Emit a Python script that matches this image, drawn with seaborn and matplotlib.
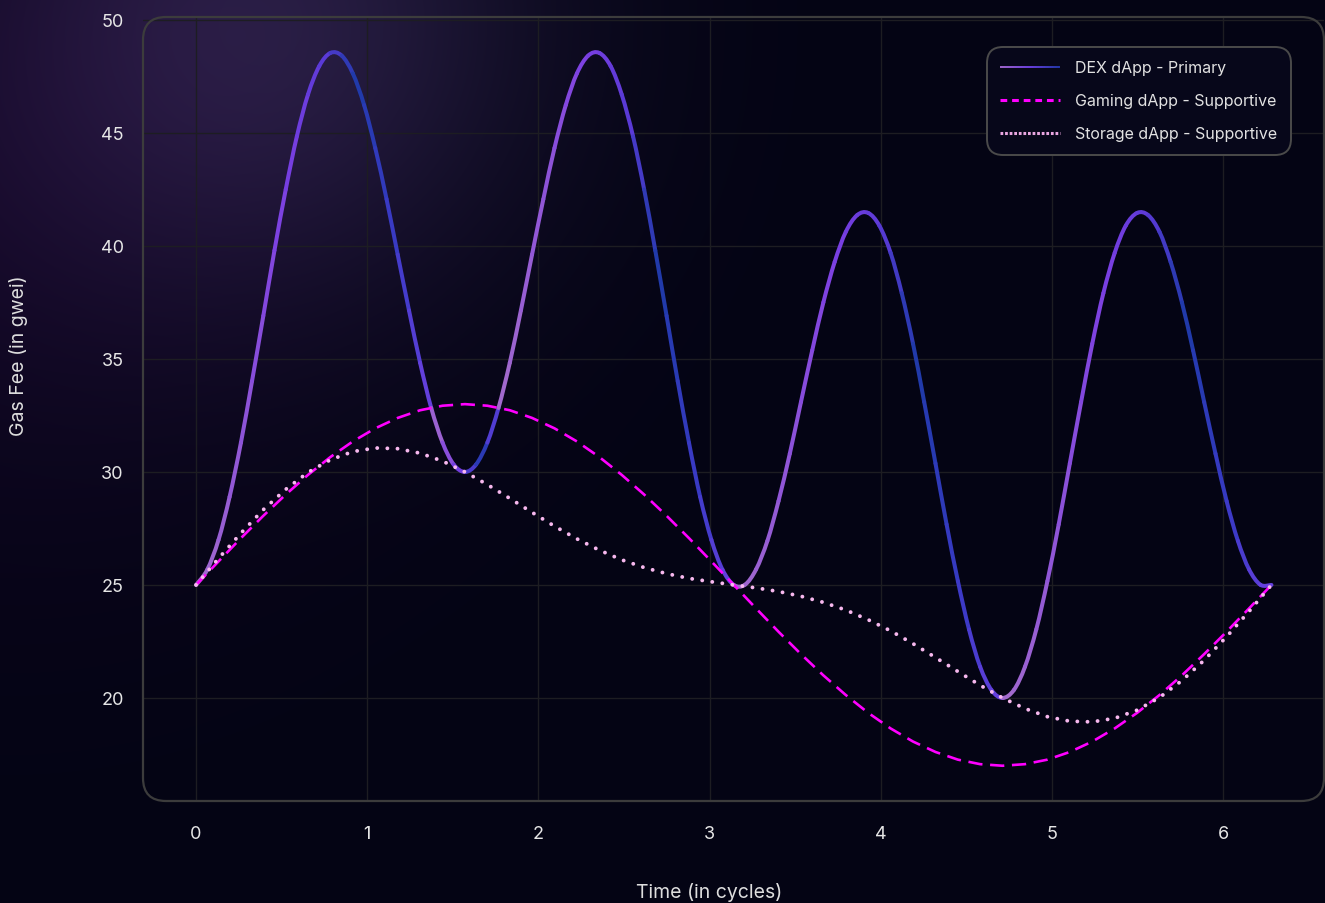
import numpy as np
import matplotlib
matplotlib.use("Agg")
import matplotlib.pyplot as plt
import seaborn as sns
from matplotlib.collections import LineCollection, PathCollection
from matplotlib.colors import LinearSegmentedColormap
from matplotlib.lines import Line2D
from matplotlib.patches import FancyBboxPatch
from matplotlib.path import Path
from matplotlib.legend_handler import HandlerLineCollection

# --- data (time in cycles, gas fee in gwei) ---
dex_x = [0.000, 0.065, 0.131, 0.196, 0.262, 0.327, 0.393, 0.458, 0.524, 0.589, 0.654, 0.720,
         0.785, 0.851, 0.916, 0.982, 1.047, 1.113, 1.178, 1.244, 1.309, 1.374, 1.440, 1.505,
         1.571, 1.636, 1.702, 1.767, 1.833, 1.898, 1.963, 2.029, 2.094, 2.160, 2.225, 2.291,
         2.356, 2.422, 2.487, 2.553, 2.618, 2.683, 2.749, 2.814, 2.880, 2.945, 3.011, 3.076,
         3.142, 3.207, 3.272, 3.338, 3.403, 3.469, 3.534, 3.600, 3.665, 3.731, 3.796, 3.862,
         3.927, 3.992, 4.058, 4.123, 4.189, 4.254, 4.320, 4.385, 4.451, 4.516, 4.581, 4.647,
         4.712, 4.778, 4.843, 4.909, 4.974, 5.040, 5.105, 5.171, 5.236, 5.301, 5.367, 5.432,
         5.498, 5.563, 5.629, 5.694, 5.760, 5.825, 5.890, 5.956, 6.021, 6.087, 6.152, 6.218,
         6.283]
dex_fee = [25.00, 25.67, 26.99, 28.90, 31.29, 34.02, 36.91, 39.80, 42.50, 44.85, 46.70, 47.96,
           48.54, 48.42, 47.63, 46.23, 44.33, 42.07, 39.62, 37.15, 34.83, 32.83, 31.30, 30.33,
           30.00, 30.33, 31.30, 32.83, 34.83, 37.15, 39.62, 42.07, 44.33, 46.23, 47.63, 48.42,
           48.54, 47.96, 46.70, 44.85, 42.50, 39.80, 36.91, 34.02, 31.29, 28.90, 26.99, 25.67,
           25.00, 25.01, 25.69, 26.95, 28.71, 30.81, 33.09, 35.38, 37.50, 39.29, 40.62, 41.36,
           41.46, 40.90, 39.69, 37.91, 35.67, 33.10, 30.38, 27.68, 25.17, 23.03, 21.38, 20.35,
           20.00, 20.35, 21.38, 23.03, 25.17, 27.68, 30.38, 33.10, 35.67, 37.91, 39.69, 40.90,
           41.46, 41.36, 40.62, 39.29, 37.50, 35.38, 33.09, 30.81, 28.71, 26.95, 25.69, 25.01,
           25.00]

supp_x = [0.000, 0.131, 0.262, 0.393, 0.524, 0.654, 0.785, 0.916, 1.047, 1.178, 1.309, 1.440,
          1.571, 1.702, 1.833, 1.963, 2.094, 2.225, 2.356, 2.487, 2.618, 2.749, 2.880, 3.011,
          3.142, 3.272, 3.403, 3.534, 3.665, 3.796, 3.927, 4.058, 4.189, 4.320, 4.451, 4.581,
          4.712, 4.843, 4.974, 5.105, 5.236, 5.367, 5.498, 5.629, 5.760, 5.890, 6.021, 6.152,
          6.283]
gaming_fee = [25.00, 26.04, 27.07, 28.06, 29.00, 29.87, 30.66, 31.35, 31.93, 32.39, 32.73, 32.93,
              33.00, 32.93, 32.73, 32.39, 31.93, 31.35, 30.66, 29.87, 29.00, 28.06, 27.07, 26.04,
              25.00, 23.96, 22.93, 21.94, 21.00, 20.13, 19.34, 18.65, 18.07, 17.61, 17.27, 17.07,
              17.00, 17.07, 17.27, 17.61, 18.07, 18.65, 19.34, 20.13, 21.00, 21.94, 22.93, 23.96,
              25.00]
storage_fee = [25.00, 26.17, 27.29, 28.33, 29.23, 29.98, 30.54, 30.90, 31.06, 31.03, 30.83, 30.48,
               30.00, 29.44, 28.83, 28.21, 27.60, 27.04, 26.54, 26.11, 25.77, 25.50, 25.29, 25.14,
               25.00, 24.87, 24.71, 24.50, 24.23, 23.89, 23.46, 22.97, 22.40, 21.79, 21.17, 20.56,
               20.00, 19.53, 19.17, 18.97, 18.94, 19.10, 19.46, 20.02, 20.77, 21.67, 22.71, 23.83,
               25.00]

labels = ["DEX dApp - Primary", "Gaming dApp - Supportive", "Storage dApp - Supportive"]
x_ticks = [0, 1, 2, 3, 4, 5, 6]
y_ticks = [20, 25, 30, 35, 40, 45, 50]

# where the primary line starts a new colour run (where it meets the other lines)
dex_breaks = [0.0, 1.372, 1.77, 3.142, 4.712, 6.283]

sns.set_theme(style="dark")
plt.rcParams['font.family'] = ['Inter', 'DejaVu Sans']

W, H = 1325, 904
fig = plt.figure(figsize=(W / 100, H / 100), dpi=100)

# background: dark navy with a soft glow top-left
yy, xx = np.mgrid[0:H, 0:W]
base = np.array([4, 4, 20]) / 255
g1 = np.exp(-((xx - 270) ** 2 + (yy - 20) ** 2) / (2 * 190 ** 2))
g2 = np.exp(-((xx - 0) ** 2 + (yy - 150) ** 2) / (2 * 260 ** 2))
img = base + g1[..., None] * np.array([30, 24, 40]) / 255 + g2[..., None] * np.array([15, 3, 18]) / 255
bg = fig.add_axes([0, 0, 1, 1], zorder=-10)
bg.imshow(np.clip(img, 0, 1), aspect="auto")
bg.axis("off")

ax = fig.add_axes([143 / W, 1 - 802 / H, 1181 / W, 784 / H])
ax.set_facecolor("none")
for s in ax.spines.values():
    s.set_visible(False)

dex_cmap = LinearSegmentedColormap.from_list(
    "dex", [(0.0, "#a46ccc"), (0.38, "#7b3fe2"), (0.55, "#5a3ad6"),
            (0.68, "#1f3aa8"), (0.85, "#3b3ac6"), (1.0, "#6b41e0")])

# primary line: smooth curve pieces through the points, coloured along each run
P = np.column_stack([dex_x, dex_fee])
n = len(P)
idx = [int(np.argmin(np.abs(P[:, 0] - b))) for b in dex_breaks]
paths, cols = [], []
for i0, i1 in zip(idx[:-1], idx[1:]):
    a, b = P[i0, 0], P[i1, 0]
    for i in range(i0, i1):
        p0, p1, p2, p3 = P[max(i - 1, 0)], P[i], P[i + 1], P[min(i + 2, n - 1)]
        c1 = p1 + (p2 - p0) / 6
        c2 = p2 - (p3 - p1) / 6
        paths.append(Path([p1, c1, c2, p2],
                          [Path.MOVETO, Path.CURVE4, Path.CURVE4, Path.CURVE4]))
        cols.append(dex_cmap(((p1[0] + p2[0]) / 2 - a) / (b - a)))
pc = PathCollection(paths, facecolors="none", edgecolors=cols, linewidths=2.9,
                    capstyle="round", transform=ax.transData, zorder=2)
ax.add_collection(pc)

sns.lineplot(x=supp_x, y=gaming_fee, ax=ax, color="#ff00ff", lw=1.9,
             linestyle=(0, (5.4, 2.9)), zorder=3)
sns.lineplot(x=supp_x, y=storage_fee, ax=ax, color="#f7b8ee", lw=2.8,
             linestyle=(0, (0.01, 2.6)), dash_capstyle="round", zorder=4)

ax.set_xlim(-0.31, 6.59)
ax.set_ylim(15.44, 50.13)
ax.set_xticks(x_ticks)
ax.set_yticks(y_ticks)
ax.grid(True, color="#1d1d22", lw=1)
ax.tick_params(axis="both", length=0, labelsize=13, colors="#e6e6e6")
ax.tick_params(axis="x", pad=17)
ax.tick_params(axis="y", pad=14)

ax.set_xlabel("Time (in cycles)", fontsize=14, color="#dedede")
ax.set_ylabel("Gas Fee (in gwei)", fontsize=14, color="#dedede")
ax.xaxis.set_label_coords(0.479, -0.103)
ax.yaxis.set_label_coords(-0.097, 0.569)

# rounded frame around the plot area
p = ax.get_position()
frame = FancyBboxPatch((p.x0, p.y0), p.width, p.height,
                       boxstyle=f"round,pad=0,rounding_size={23 / W}",
                       mutation_aspect=W / H, transform=fig.transFigure,
                       fill=False, ec="#3c3c3c", lw=1.6, zorder=5)
fig.patches.append(frame)


class GradientHandler(HandlerLineCollection):
    def create_artists(self, legend, orig_handle, xdescent, ydescent, width, height, fontsize, trans):
        xs = np.linspace(0, width, 40) - xdescent
        ys = np.full_like(xs, height / 2 - ydescent)
        pts = np.column_stack([xs, ys]).reshape(-1, 1, 2)
        segs = np.concatenate([pts[:-1], pts[1:]], axis=1)
        lc = LineCollection(segs, cmap=legend_cmap, transform=trans, linewidths=1.4)
        lc.set_array(np.linspace(0, 1, len(segs)))
        return [lc]


legend_cmap = LinearSegmentedColormap.from_list("leg", ["#a066cc", "#6a3fe0", "#2338a8"])
handles = [
    LineCollection([], cmap=legend_cmap),
    Line2D([], [], color="#ff00ff", lw=2.2, linestyle=(0, (2.2, 1.6))),
    Line2D([], [], color="#e9a6e0", lw=2.2, linestyle=(0, (0.9, 0.6))),
]
leg = ax.legend(handles, labels, handler_map={LineCollection: GradientHandler()},
                loc="upper right", bbox_to_anchor=(0.972, 0.962), borderaxespad=0,
                fontsize=11.5, handlelength=3.75, handletextpad=0.94, labelspacing=1.12,
                borderpad=0.85, frameon=True, fancybox=True, framealpha=1,
                facecolor="#07071a", edgecolor="#4a4a4a")
leg.get_frame().set_boxstyle("round,pad=0,rounding_size=1.0")
leg.get_frame().set_linewidth(1.4)
for txt in leg.get_texts():
    txt.set_color("#e2e2e2")

fig.savefig("out.png", dpi=100, facecolor="#04041a")
